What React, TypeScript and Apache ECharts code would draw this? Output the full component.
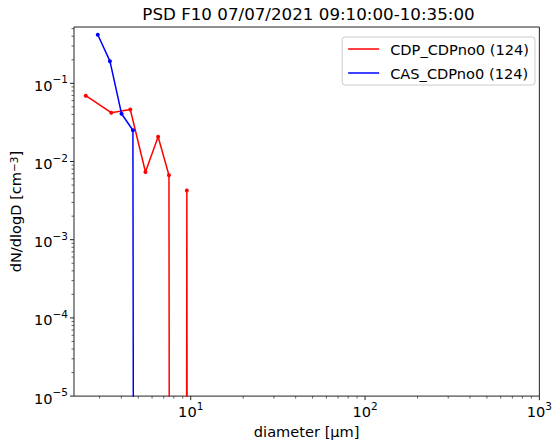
import React, { useEffect, useRef } from "react";
import * as echarts from "echarts";

const FONT = '"DejaVu Sans", sans-serif';
const FS = 14.6;

const TITLE = "PSD F10 07/07/2021 09:10:00-10:35:00";
const X_NAME = "diameter [µm]";
const CDP_NAME = "CDP_CDPno0 (124)";
const CAS_NAME = "CAS_CDPno0 (124)";

// CDP size bins (µm) and dN/dlogD (cm^-3); zero values are clipped to the bottom like matplotlib
const cdpDiameter = [2.5, 3.5, 4.5, 5.5, 6.5, 7.5, 8.5, 9.5, 10.5, 11.5, 12.5, 13.5, 15, 17, 19, 21, 23, 25, 27, 29, 31, 33, 35, 37, 39, 41, 43, 45, 47, 49];
const cdpConc = [0.0695, 0.0421, 0.0462, 0.00734, 0.0207, 0.00667, 0, 0.00427, 0, 0, 0, 0, 0, 0, 0, 0, 0, 0, 0, 0, 0, 0, 0, 0, 0, 0, 0, 0, 0, 0];

const casDiameter = [2.93, 3.44, 4.01, 4.66, 5.4, 6.3, 7.3, 8.5, 9.8, 11.5, 13.5, 16, 19, 22, 26, 30, 35, 41, 48];
const casConc = [0.418, 0.192, 0.0408, 0.0251, 0, 0, 0, 0, 0, 0, 0, 0, 0, 0, 0, 0, 0, 0, 0];

// axes
const X_MIN = 2.14;
const X_MAX = 1000;
const Y_MIN = 1e-5;
const Y_MAX = 0.525;
const xMajorTicks = [10, 100, 1000];
const yMajorTicks = [1e-5, 1e-4, 1e-3, 1e-2, 1e-1];
const minorMultipliers = [2, 3, 4, 5, 6, 7, 8, 9];
const xDecades = [1, 10, 100];
const yDecades = [1e-5, 1e-4, 1e-3, 1e-2, 1e-1];

const CLIPPED = 1e-100;
const toPlot = (v: number) => (v > 0 ? v : CLIPPED);

function powLabel(val: number) {
  const e = Math.log10(val);
  const r = Math.round(e);
  if (Math.abs(e - r) > 1e-6) return "";
  const s = r < 0 ? "\u2212" + -r : String(r);
  return `{b|10}{s|${s}}`;
}

const labelRich = {
  b: { fontSize: FS, fontFamily: FONT, color: "#000", lineHeight: 19, verticalAlign: "bottom" },
  s: { fontSize: 10.5, fontFamily: FONT, color: "#000", lineHeight: 10.5, verticalAlign: "top" },
};

export default function App() {
  const ref = useRef<HTMLDivElement>(null);
  useEffect(() => {
    if (!ref.current) return;
    const chart = echarts.init(ref.current, undefined, { renderer: "svg" });

    const tickData: number[][] = [];
    xMajorTicks.forEach((v) => tickData.push([v, Y_MIN, 0, 1]));
    xDecades.forEach((d) =>
      minorMultipliers.forEach((m) => {
        const v = d * m;
        if (v > X_MIN && v < X_MAX) tickData.push([v, Y_MIN, 0, 0]);
      })
    );
    yMajorTicks.forEach((v) => tickData.push([X_MIN, v, 1, 1]));
    yDecades.forEach((d) =>
      minorMultipliers.forEach((m) => {
        const v = d * m;
        if (v > Y_MIN && v < Y_MAX) tickData.push([X_MIN, v, 1, 0]);
      })
    );

    chart.setOption({
      animation: false,
      backgroundColor: "#fff",
      title: {
        text: TITLE,
        left: 308.5,
        textAlign: "center",
        top: 4,
        padding: 0,
        textStyle: { fontFamily: FONT, fontSize: 16.7, fontWeight: "normal", color: "#000", lineHeight: 20 },
      },
      grid: {
        left: 74,
        right: 12,
        top: 27,
        bottom: 43,
        show: true,
        borderColor: "#222",
        borderWidth: 1,
        backgroundColor: "transparent",
      },
      legend: {
        orient: "vertical",
        right: 20,
        top: 37,
        data: [
          { name: CDP_NAME, icon: "rect" },
          { name: CAS_NAME, icon: "rect" },
        ],
        itemWidth: 31,
        itemHeight: 1.5,
        itemGap: 8,
        padding: [4, 6, 4, 6],
        borderColor: "#ccc",
        borderWidth: 1,
        borderRadius: 3,
        backgroundColor: "rgba(255,255,255,0.8)",
        textStyle: { fontFamily: FONT, fontSize: FS, color: "#000", lineHeight: 16, padding: [0, 0, 0, 6] },
      },
      xAxis: {
        type: "log",
        logBase: 10,
        min: X_MIN,
        max: X_MAX,
        name: X_NAME,
        nameLocation: "middle",
        nameGap: 24,
        nameTextStyle: { fontFamily: FONT, fontSize: FS, color: "#000" },
        axisLine: { show: false },
        axisTick: { show: false },
        splitLine: { show: false },
        minorTick: { show: false },
        axisLabel: {
          formatter: powLabel,
          rich: labelRich,
          margin: 4,
          showMinLabel: false,
          showMaxLabel: true,
          hideOverlap: false,
        },
      },
      yAxis: {
        type: "log",
        logBase: 10,
        min: Y_MIN,
        max: Y_MAX,
        name: "dN/dlogD [cm{s|\u22123}]",
        nameLocation: "middle",
        nameRotate: 90,
        nameGap: 46,
        nameTextStyle: {
          fontFamily: FONT,
          fontSize: FS,
          color: "#000",
          rich: {
            s: { fontSize: 10.5, fontFamily: FONT, color: "#000", verticalAlign: "top", lineHeight: 10.5 },
          },
        },
        axisLine: { show: false },
        axisTick: { show: false },
        splitLine: { show: false },
        minorTick: { show: false },
        axisLabel: {
          formatter: powLabel,
          rich: labelRich,
          margin: 6,
          showMinLabel: true,
          showMaxLabel: false,
          hideOverlap: false,
        },
      },
      series: [
        {
          name: CDP_NAME,
          type: "line",
          data: cdpDiameter.map((d, i) => [d, toPlot(cdpConc[i])]),
          color: "#ff0000",
          symbol: "circle",
          symbolSize: 4,
          showSymbol: true,
          lineStyle: { width: 1.5, color: "#ff0000" },
          itemStyle: { color: "#ff0000" },
          clip: true,
          z: 3,
        },
        {
          name: CAS_NAME,
          type: "line",
          data: casDiameter.map((d, i) => [d, toPlot(casConc[i])]),
          color: "#0000ff",
          symbol: "circle",
          symbolSize: 4,
          showSymbol: true,
          lineStyle: { width: 1.5, color: "#0000ff" },
          itemStyle: { color: "#0000ff" },
          clip: true,
          z: 4,
        },
        {
          name: "ticks",
          type: "custom",
          silent: true,
          clip: false,
          z: 5,
          data: tickData,
          renderItem: (params: any, api: any) => {
            const ax = api.value(2);
            const major = api.value(3) === 1;
            const p = api.coord([api.value(0), api.value(1)]);
            const len = major ? 4 : 2.5;
            const shape =
              ax === 0
                ? { x1: p[0], y1: p[1], x2: p[0], y2: p[1] + len }
                : { x1: p[0], y1: p[1], x2: p[0] - len, y2: p[1] };
            return {
              type: "line",
              shape,
              style: { stroke: "#222", lineWidth: major ? 1 : 0.7 },
            };
          },
        },
      ],
    });
    return () => chart.dispose();
  }, []);
  return (
    <div
      ref={ref}
      style={{ position: "fixed", left: 0, top: 0, width: 555, height: 444, background: "#fff" }}
    />
  );
}
